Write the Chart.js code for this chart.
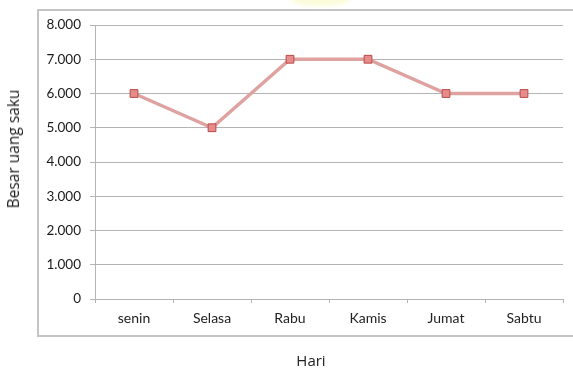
<!DOCTYPE html>
<html>
<head>
<meta charset="utf-8">
<script src="https://cdn.jsdelivr.net/npm/chart.js@4/dist/chart.umd.min.js"></script>
<style>
  html, body { margin: 0; padding: 0; background: #fff; overflow: hidden; }
  #wrap { position: relative; width: 573px; height: 369px; }
  #frame { position: absolute; left: 37px; top: 9px; width: 560px; height: 328px; border: 2px solid #c4c4c4; box-sizing: border-box; }
  #glow { position: absolute; left: 290px; top: -8px; width: 60px; height: 14px; border-radius: 50%; background: #fbfcd8; filter: blur(2px); }
  .axis-title { position: absolute; font-family: "Open Sans", Lato, sans-serif; font-size: 15px; font-weight: 400; color: #222; white-space: nowrap; }
  #xTitle { left: 311px; top: 360px; transform: translate(-50%, -50%); }
  #yTitle { left: 13px; top: 149px; font-size: 15.5px; transform: translate(-50%, -50%) rotate(-90deg); }
  canvas { position: absolute; left: 0; top: 0; }
</style>
</head>
<body>
<div id="wrap">
  <div id="glow"></div>
  <div id="frame"></div>
  <canvas id="chart" width="573" height="369"></canvas>
  <div class="axis-title" id="xTitle">Hari</div>
  <div class="axis-title" id="yTitle">Besar uang saku</div>
</div>
<script>
const days = ['senin', 'Selasa', 'Rabu', 'Kamis', 'Jumat', 'Sabtu'];
const uangSaku = [6000, 5000, 7000, 7000, 6000, 6000];
const yMin = 0;
const yMax = 8000;
const yStep = 1000;

const lineColor = 'rgb(222, 162, 160)';
const markerFill = 'rgb(230, 140, 138)';
const markerEdge = 'rgb(185, 75, 72)';
const gridColor = '#b4b4b4';

function formatRibuan(v) {
    if (v === 0) return '0';
    return Math.floor(v / 1000) + '.' + String(v % 1000).padStart(3, '0');
}

const ctx = document.getElementById('chart').getContext('2d');

new Chart(ctx, {
    type: 'line',
    data: {
        labels: days,
        datasets: [{
            label: 'Besar uang saku',
            data: uangSaku,
            borderColor: lineColor,
            borderWidth: 3.5,
            fill: false,
            tension: 0,
            pointStyle: 'rect',
            pointRadius: 5.5,
            pointBackgroundColor: markerFill,
            pointBorderColor: markerEdge,
            pointBorderWidth: 1
        }]
    },
    options: {
        responsive: false,
        animation: false,
        layout: {
            padding: { top: 25, right: 10, bottom: 0, left: 0 }
        },
        plugins: {
            legend: { display: false },
            tooltip: { enabled: false }
        },
        scales: {
            x: {
                offset: true,
                afterFit: function (scale) { scale.height = 70; },
                grid: {
                    offset: true,
                    drawOnChartArea: false,
                    drawTicks: true,
                    tickLength: 4,
                    color: gridColor
                },
                border: { color: gridColor, width: 1 },
                ticks: {
                    padding: 7,
                    maxRotation: 0,
                    color: '#222',
                    font: { family: 'Lato', size: 14 }
                }
            },
            y: {
                min: yMin,
                max: yMax,
                afterFit: function (scale) { scale.width = 95; },
                grid: {
                    color: gridColor,
                    tickLength: 5
                },
                border: { color: gridColor, width: 1 },
                ticks: {
                    stepSize: yStep,
                    padding: 9,
                    color: '#1a1a1a',
                    font: { family: 'Lato', size: 13.5 },
                    callback: function (value) { return formatRibuan(value); }
                }
            }
        }
    }
});
</script>
</body>
</html>
